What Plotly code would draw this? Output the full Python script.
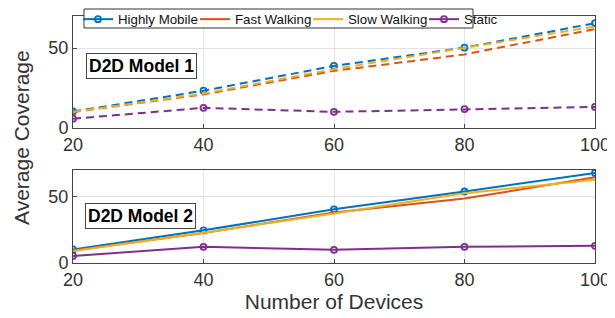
import plotly.graph_objects as go

devices = [20, 40, 60, 80, 100]
series_names = ["Highly Mobile", "Fast Walking", "Slow Walking", "Static"]
model1 = {
    "Highly Mobile": [10.3, 23.3, 38.8, 50.2, 65.5],
    "Fast Walking": [10.0, 21.0, 35.7, 46.0, 61.8],
    "Slow Walking": [10.0, 21.5, 36.8, 50.2, 63.4],
    "Static": [5.8, 12.6, 10.1, 11.8, 13.2],
}
model2 = {
    "Highly Mobile": [10.2, 24.6, 40.4, 53.8, 67.8],
    "Fast Walking": [9.4, 22.6, 38.0, 48.5, 64.5],
    "Slow Walking": [9.1, 22.8, 37.3, 52.5, 62.7],
    "Static": [5.3, 12.2, 9.9, 12.2, 12.9],
}
colors = {"Highly Mobile": "#0072BD", "Fast Walking": "#D95319",
          "Slow Walking": "#EDB120", "Static": "#7E2F8E"}
markers = {"Highly Mobile": True, "Fast Walking": False, "Slow Walking": False, "Static": True}

FONT = "Liberation Sans, Arial, sans-serif"

# page body has an 8px margin; figure sized to fit the 615x318 window
W, H = 607, 310
L, R, T, B = 65, 20, 8, 55
PW = W - L - R
PH = H - T - B
def px(abs_x):
    return (abs_x - 8 - L) / PW
def py(abs_y):
    return (H - B - (abs_y - 8)) / PH

legend_ids = ["legend", "legend2", "legend3", "legend4"]
legend_x_abs = [78, 195, 308, 424]

fig = go.Figure()
for ax, data, dash in [("", model1, "8px,5px"), ("2", model2, "solid")]:
    for i, name in enumerate(series_names):
        fig.add_trace(go.Scatter(
            x=devices, y=data[name], name=name,
            mode="lines+markers" if markers[name] else "lines",
            line=dict(color=colors[name], width=2, dash=dash),
            marker=dict(symbol="circle-open", size=6, color=colors[name], line=dict(width=1.8)),
            xaxis="x" + ax, yaxis="y" + ax,
            showlegend=(ax == "2"),
            legend=legend_ids[i],
        ))

tick_font = dict(size=18, color="#333333", family=FONT)
axis_common = dict(range=[20, 100], tickvals=devices, showgrid=True, gridcolor="#e3e3e3",
                   showline=True, linecolor="#444444", linewidth=1, mirror=True,
                   ticks="inside", ticklen=4, tickcolor="#444444",
                   tickfont=tick_font, zeroline=False)
yaxis_common = dict(range=[0, 70], tickvals=[0, 50], showgrid=True, gridcolor="#e3e3e3",
                    showline=True, linecolor="#444444", linewidth=1, mirror=True,
                    ticks="inside", ticklen=4, tickcolor="#444444",
                    tickfont=tick_font, zeroline=False)

layout_legends = {}
for lid, lx in zip(legend_ids, legend_x_abs):
    layout_legends[lid] = dict(orientation="h", x=px(lx), y=py(19.5), xanchor="left", yanchor="middle",
                               bgcolor="rgba(0,0,0,0)", borderwidth=0,
                               font=dict(size=13.3, family=FONT, color="#111111"),
                               itemwidth=30)

fig.update_layout(
    width=W, height=H,
    margin=dict(l=L, r=R, t=T, b=B, autoexpand=False),
    paper_bgcolor="white", plot_bgcolor="white",
    font=dict(family=FONT, color="#333333"),
    xaxis=dict(domain=[0, 1], anchor="y", **axis_common),
    yaxis=dict(domain=[py(128), 1], anchor="x", **yaxis_common),
    xaxis2=dict(domain=[0, 1], anchor="y2",
                title=dict(text="Number of Devices", font=dict(size=21, family=FONT, color="#333333"), standoff=5),
                **axis_common),
    yaxis2=dict(domain=[0, py(170)], anchor="x2", **yaxis_common),
    showlegend=True,
    **layout_legends,
)

# legend frame
fig.add_shape(type="rect", xref="paper", yref="paper",
              x0=px(84), x1=px(473), y0=py(28), y1=py(9),
              line=dict(color="#333333", width=1), fillcolor="white", layer="above")

fig.add_annotation(text="Average Coverage", xref="paper", yref="paper", x=px(21), y=py(138),
                   xanchor="center", yanchor="middle", textangle=-90, showarrow=False,
                   font=dict(size=21, family=FONT, color="#333333"))
fig.add_annotation(text="<b>D2D Model 1</b>", xref="paper", yref="paper",
                   x=px(141), y=py(66), xanchor="center", yanchor="middle",
                   showarrow=False, bordercolor="#444444", borderwidth=1, borderpad=2,
                   bgcolor="white", font=dict(size=17.5, family=FONT, color="#000000"))
fig.add_annotation(text="<b>D2D Model 2</b>", xref="paper", yref="paper",
                   x=px(140), y=py(215.5), xanchor="center", yanchor="middle",
                   showarrow=False, bordercolor="#444444", borderwidth=1, borderpad=2,
                   bgcolor="white", font=dict(size=17.5, family=FONT, color="#000000"))

fig.write_html("out.html")
